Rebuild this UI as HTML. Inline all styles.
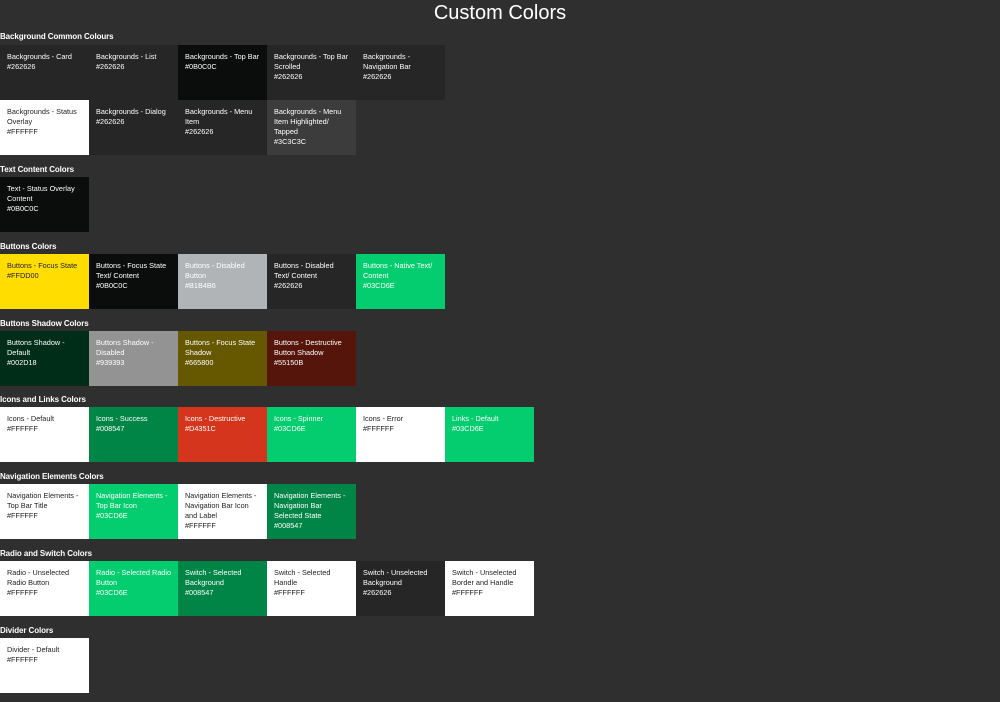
<!DOCTYPE html>
<html><head><meta charset="utf-8"><style>
body{margin:0;width:1000px;height:702px;background:#2f2f2f;position:relative;overflow:hidden;font-family:"Liberation Sans",sans-serif}
.t{position:absolute;left:0;width:1000px;top:1px;text-align:center;color:#fff;font-size:20px;line-height:24px}
.h{position:absolute;left:0;color:#fff;font-weight:bold;font-size:8px;line-height:10px;letter-spacing:-0.1px}
.s{position:absolute;width:89px;height:55px;box-sizing:border-box;padding:7px 0 0 7px;font-size:7.3px;line-height:10px;color:#fff;white-space:nowrap;overflow:hidden}
.d{color:#222}
</style></head><body>
<div class="t">Custom Colors</div>

<div class="h" style="top:32px">Background Common Colours</div>
<div class="s" style="left:0;top:45px;background:#262626">Backgrounds - Card<br>#262626</div>
<div class="s" style="left:89px;top:45px;background:#262626">Backgrounds - List<br>#262626</div>
<div class="s" style="left:178px;top:45px;background:#0b0c0c">Backgrounds - Top Bar<br>#0B0C0C</div>
<div class="s" style="left:267px;top:45px;background:#262626">Backgrounds - Top Bar<br>Scrolled<br>#262626</div>
<div class="s" style="left:356px;top:45px;background:#262626">Backgrounds -<br>Navigation Bar<br>#262626</div>
<div class="s d" style="left:0;top:100px;background:#fff">Backgrounds - Status<br>Overlay<br>#FFFFFF</div>
<div class="s" style="left:89px;top:100px;background:#262626">Backgrounds - Dialog<br>#262626</div>
<div class="s" style="left:178px;top:100px;background:#262626">Backgrounds - Menu<br>Item<br>#262626</div>
<div class="s" style="left:267px;top:100px;background:#3c3c3c">Backgrounds - Menu<br>Item Highlighted/<br>Tapped<br>#3C3C3C</div>

<div class="h" style="top:165px">Text Content Colors</div>
<div class="s" style="left:0;top:177px;background:#0b0c0c">Text - Status Overlay<br>Content<br>#0B0C0C</div>

<div class="h" style="top:242px">Buttons Colors</div>
<div class="s d" style="left:0;top:254px;background:#ffdd00">Buttons - Focus State<br>#FFDD00</div>
<div class="s" style="left:89px;top:254px;background:#0b0c0c">Buttons - Focus State<br>Text/ Content<br>#0B0C0C</div>
<div class="s" style="left:178px;top:254px;background:#b1b4b6">Buttons - Disabled<br>Button<br>#B1B4B6</div>
<div class="s" style="left:267px;top:254px;background:#262626">Buttons - Disabled<br>Text/ Content<br>#262626</div>
<div class="s" style="left:356px;top:254px;background:#03cd6e">Buttons - Native Text/<br>Content<br>#03CD6E</div>

<div class="h" style="top:319px">Buttons Shadow Colors</div>
<div class="s" style="left:0;top:331px;background:#002d18">Buttons Shadow -<br>Default<br>#002D18</div>
<div class="s" style="left:89px;top:331px;background:#939393">Buttons Shadow -<br>Disabled<br>#939393</div>
<div class="s" style="left:178px;top:331px;background:#665800">Buttons - Focus State<br>Shadow<br>#665800</div>
<div class="s" style="left:267px;top:331px;background:#55150b">Buttons - Destructive<br>Button Shadow<br>#55150B</div>

<div class="h" style="top:395px">Icons and Links Colors</div>
<div class="s d" style="left:0;top:407px;background:#fff">Icons - Default<br>#FFFFFF</div>
<div class="s" style="left:89px;top:407px;background:#008547">Icons - Success<br>#008547</div>
<div class="s" style="left:178px;top:407px;background:#d4351c">Icons - Destructive<br>#D4351C</div>
<div class="s" style="left:267px;top:407px;background:#03cd6e">Icons - Spinner<br>#03CD6E</div>
<div class="s d" style="left:356px;top:407px;background:#fff">Icons - Error<br>#FFFFFF</div>
<div class="s" style="left:445px;top:407px;background:#03cd6e">Links - Default<br>#03CD6E</div>

<div class="h" style="top:472px">Navigation Elements Colors</div>
<div class="s d" style="left:0;top:484px;background:#fff">Navigation Elements -<br>Top Bar Title<br>#FFFFFF</div>
<div class="s" style="left:89px;top:484px;background:#03cd6e">Navigation Elements -<br>Top Bar Icon<br>#03CD6E</div>
<div class="s d" style="left:178px;top:484px;background:#fff">Navigation Elements -<br>Navigation Bar Icon<br>and Label<br>#FFFFFF</div>
<div class="s" style="left:267px;top:484px;background:#008547">Navigation Elements -<br>Navigation Bar<br>Selected State<br>#008547</div>

<div class="h" style="top:549px">Radio and Switch Colors</div>
<div class="s d" style="left:0;top:561px;background:#fff">Radio - Unselected<br>Radio Button<br>#FFFFFF</div>
<div class="s" style="left:89px;top:561px;background:#03cd6e">Radio - Selected Radio<br>Button<br>#03CD6E</div>
<div class="s" style="left:178px;top:561px;background:#008547">Switch - Selected<br>Background<br>#008547</div>
<div class="s d" style="left:267px;top:561px;background:#fff">Switch - Selected<br>Handle<br>#FFFFFF</div>
<div class="s" style="left:356px;top:561px;background:#262626">Switch - Unselected<br>Background<br>#262626</div>
<div class="s d" style="left:445px;top:561px;background:#fff">Switch - Unselected<br>Border and Handle<br>#FFFFFF</div>

<div class="h" style="top:626px">Divider Colors</div>
<div class="s d" style="left:0;top:638px;background:#fff">Divider - Default<br>#FFFFFF</div>
</body></html>
